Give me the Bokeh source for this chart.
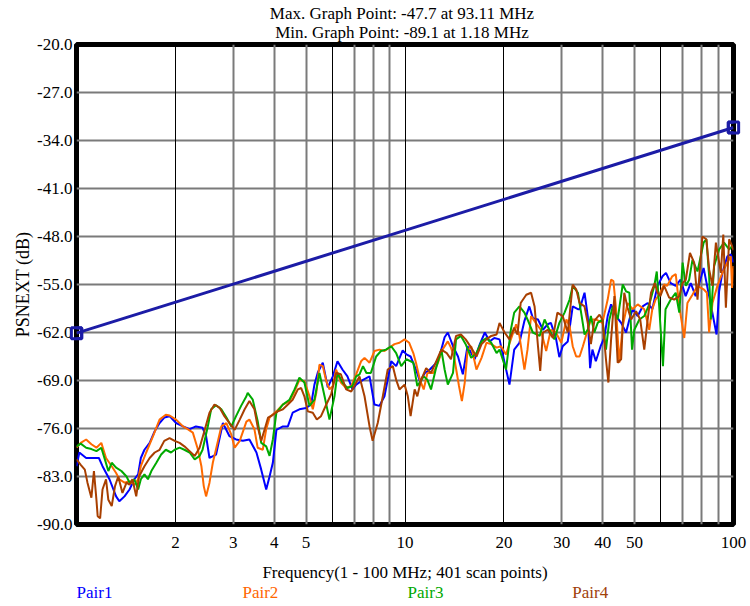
from bokeh.plotting import figure
from bokeh.models import (FixedTicker, PrintfTickFormatter, Grid, Label, Range1d)
from bokeh.layouts import column
from bokeh.core.properties import value
from bokeh.embed import file_html
from bokeh.resources import INLINE

FONT = "Liberation Serif"

# ---------------- data ----------------
TITLE_1 = "Max. Graph Point: -47.7 at 93.11 MHz"
TITLE_2 = "Min. Graph Point: -89.1 at 1.18 MHz"
X_LABEL = "Frequency(1 - 100 MHz; 401 scan points)"
Y_LABEL = "PSNEXT (dB)"
SERIES = ["Pair1", "Pair2", "Pair3", "Pair4"]

X_TICKS = [2, 3, 4, 5, 10, 20, 30, 40, 50, 100]
Y_TICKS = [-20, -27, -34, -41, -48, -55, -62, -69, -76, -83, -90]

LIMIT_F = [1, 10, 100]
LIMIT_DB = [-62.1, -47.1, -32.1]

P1_F = [1.00, 1.02, 1.07, 1.17, 1.20, 1.26, 1.32, 1.35, 1.40, 1.45,
        1.50, 1.54, 1.57, 1.61, 1.67, 1.73, 1.79, 1.85, 1.92, 2.01,
        2.11, 2.21, 2.31, 2.42, 2.48, 2.54, 2.66, 2.79, 2.92, 3.06,
        3.21, 3.36, 3.53, 3.65, 3.78, 3.87, 3.96, 4.06, 4.25, 4.40,
        4.55, 4.77, 5.00, 5.18, 5.30, 5.43, 5.62, 5.82, 6.03, 6.23,
        6.45, 6.68, 6.92, 7.10, 7.45, 7.80, 8.07, 8.36, 8.66, 9.08,
        9.40, 9.84, 10.1, 10.4, 10.8, 11.1, 11.5, 11.9, 12.3, 12.7,
        13.2, 13.5, 14.0, 14.5, 15.0, 15.5, 16.3, 16.9, 17.5, 18.1,
        18.7, 19.4, 20.1, 20.8, 21.5, 22.3, 23.1, 23.9, 24.5, 25.4,
        26.3, 27.2, 27.8, 28.8, 29.5, 30.2, 31.3, 32.4, 33.6, 34.0,
        35.2, 36.0, 36.6, 37.2, 38.1, 39.4, 40.4, 41.4, 42.4, 43.9,
        45.5, 47.1, 48.2, 49.3, 51.1, 52.9, 54.8, 56.6, 58.7, 60.8,
        62.3, 64.4, 66.7, 69.0, 71.5, 74.1, 76.7, 81.1, 84.3, 88.8,
        90.4, 92.5, 95.8, 98.1, 100]
P1_DB = [-81.5, -79.5, -80.3, -80.3, -81.5, -83.4, -85.9, -86.6, -85.9, -84.9,
         -83.4, -82.7, -80.3, -79.1, -78.1, -76.4, -75.2, -74.4, -74.2, -75.2,
         -75.7, -76.1, -75.7, -75.9, -77.1, -80.3, -79.8, -75.2, -77.1, -77.6,
         -77.8, -77.6, -79.5, -82.0, -84.9, -83.0, -81.0, -76.2, -75.7, -75.7,
         -73.7, -73.2, -73.0, -72.5, -69.6, -67.8, -66.4, -70.0, -68.4, -66.2,
         -67.4, -68.4, -70.3, -69.6, -68.9, -68.4, -72.5, -72.7, -71.3, -66.2,
         -66.9, -64.6, -65.2, -65.5, -67.4, -69.1, -67.9, -67.4, -66.7, -65.7,
         -62.7, -62.0, -64.0, -65.5, -68.1, -64.0, -65.9, -63.7, -62.0, -63.3,
         -62.8, -63.0, -66.4, -69.6, -64.5, -63.5, -60.3, -58.2, -59.9, -60.1,
         -61.6, -60.8, -60.6, -62.8, -65.6, -64.0, -63.3, -58.2, -58.6, -58.6,
         -56.2, -59.6, -67.2, -64.5, -66.2, -64.0, -62.8, -59.6, -57.9, -59.6,
         -60.6, -62.0, -60.1, -58.6, -59.6, -58.2, -57.7, -58.6, -55.2, -53.8,
         -53.3, -54.8, -55.2, -54.3, -56.7, -54.8, -56.7, -52.6, -56.7, -62.3,
         -56.0, -53.3, -50.9, -50.6, -51.8]

P2_F = [1.00, 1.03, 1.07, 1.11, 1.15, 1.19, 1.23, 1.28, 1.32, 1.35,
        1.40, 1.45, 1.50, 1.54, 1.57, 1.63, 1.71, 1.79, 1.87, 1.92,
        2.01, 2.11, 2.18, 2.26, 2.34, 2.40, 2.44, 2.48, 2.54, 2.60,
        2.66, 2.76, 2.86, 2.96, 3.03, 3.14, 3.29, 3.36, 3.48, 3.56,
        3.69, 3.78, 3.87, 4.06, 4.25, 4.45, 4.61, 4.77, 4.94, 5.12,
        5.24, 5.37, 5.49, 5.62, 5.76, 5.89, 6.03, 6.17, 6.38, 6.62,
        6.86, 7.10, 7.35, 7.53, 7.80, 8.07, 8.36, 8.66, 8.97, 9.29,
        9.62, 9.97, 10.3, 10.6, 10.8, 11.1, 11.4, 11.7, 12.2, 12.6,
        13.0, 13.5, 13.8, 14.1, 14.6, 14.9, 15.2, 15.5, 15.9, 16.5,
        17.1, 17.7, 18.3, 19.0, 19.6, 20.3, 21.0, 21.8, 22.3, 23.1,
        23.6, 24.2, 25.0, 25.9, 26.9, 27.8, 28.8, 29.9, 31.0, 31.7,
        32.4, 33.2, 34.0, 34.8, 36.0, 36.8, 38.1, 39.9, 41.4, 42.4,
        43.1, 43.9, 44.9, 46.0, 47.6, 49.3, 51.1, 53.5, 55.4, 56.6,
        57.9, 59.4, 61.5, 62.8, 65.1, 66.7, 68.4, 70.8, 72.4, 75.0,
        77.7, 81.1, 83.0, 84.3, 86.3, 89.3, 92.5, 95.8, 98.1, 99.0,
        100]
P2_DB = [-78.8, -78.1, -77.6, -78.3, -78.8, -78.1, -80.3, -81.5, -82.5, -83.4,
         -83.9, -83.7, -84.2, -83.4, -81.5, -79.5, -77.1, -74.7, -74.0, -74.1,
         -74.7, -75.7, -76.1, -76.6, -79.0, -81.5, -84.4, -85.9, -83.9, -81.0,
         -79.0, -75.7, -75.2, -76.9, -78.8, -77.8, -75.0, -74.7, -76.1, -78.8,
         -79.1, -76.1, -74.4, -73.5, -72.5, -72.0, -70.6, -68.9, -69.1, -71.3,
         -73.2, -70.8, -66.7, -66.9, -69.1, -70.3, -69.8, -67.4, -69.3, -70.1,
         -69.8, -68.1, -66.2, -65.7, -66.4, -64.7, -64.5, -64.7, -64.2, -63.7,
         -63.5, -63.0, -63.5, -65.0, -66.4, -68.9, -70.3, -67.9, -67.9, -66.4,
         -64.5, -63.3, -64.2, -65.5, -69.8, -72.0, -69.3, -64.7, -64.0, -67.4,
         -65.7, -63.5, -63.7, -64.2, -64.0, -65.2, -63.0, -60.8, -62.5, -67.4,
         -64.5, -59.6, -60.6, -61.6, -64.7, -61.6, -62.0, -63.5, -60.1, -61.1,
         -64.0, -65.5, -65.5, -64.0, -61.6, -60.1, -60.1, -60.6, -57.2, -54.3,
         -54.5, -58.6, -66.4, -61.1, -57.7, -58.6, -57.9, -58.6, -61.6, -58.6,
         -57.2, -56.5, -55.0, -55.2, -53.8, -53.5, -58.2, -62.8, -57.7, -56.5,
         -55.2, -55.7, -56.2, -62.0, -57.7, -55.2, -53.3, -51.8, -50.9, -55.5,
         -52.3]

P3_F = [1.00, 1.03, 1.07, 1.11, 1.15, 1.19, 1.22, 1.25, 1.28, 1.32,
        1.37, 1.42, 1.45, 1.50, 1.54, 1.57, 1.61, 1.65, 1.69, 1.75,
        1.81, 1.87, 1.94, 1.99, 2.06, 2.13, 2.21, 2.29, 2.37, 2.42,
        2.51, 2.57, 2.66, 2.76, 2.86, 2.96, 3.06, 3.17, 3.29, 3.32,
        3.44, 3.56, 3.65, 3.78, 3.87, 3.96, 4.06, 4.25, 4.45, 4.61,
        4.77, 4.94, 5.12, 5.30, 5.49, 5.69, 5.89, 6.10, 6.23, 6.45,
        6.68, 6.92, 7.10, 7.27, 7.45, 7.63, 7.87, 8.17, 8.45, 8.75,
        9.08, 9.40, 9.74, 10.1, 10.6, 10.9, 11.4, 11.7, 12.0, 12.4,
        12.9, 13.2, 13.5, 14.0, 14.3, 14.8, 15.3, 15.9, 16.5, 17.1,
        17.7, 18.3, 19.0, 19.4, 20.3, 21.0, 21.5, 22.3, 23.1, 23.6,
        24.5, 25.7, 26.6, 27.5, 28.5, 29.5, 30.6, 31.7, 32.4, 33.6,
        34.5, 35.2, 36.0, 36.8, 37.7, 38.6, 39.9, 40.9, 41.9, 42.9,
        44.4, 46.0, 47.1, 48.2, 49.1, 49.9, 51.7, 53.5, 55.4, 57.4,
        58.4, 59.4, 61.0, 62.1, 64.4, 66.7, 68.4, 70.0, 71.6, 73.3,
        75.0, 77.7, 81.1, 82.7, 84.3, 85.3, 87.3, 90.4, 93.6, 97.0,
        99.0]
P3_DB = [-78.6, -78.2, -78.8, -79.0, -79.3, -78.8, -80.5, -82.2, -81.0, -81.7,
         -82.2, -83.0, -83.9, -83.4, -84.9, -83.4, -82.7, -83.4, -82.2, -81.0,
         -79.8, -79.1, -79.5, -79.1, -78.8, -79.1, -79.5, -80.5, -80.0, -79.1,
         -75.7, -73.2, -72.6, -73.2, -74.4, -75.7, -74.2, -72.7, -71.3, -70.8,
         -71.8, -74.9, -78.1, -78.6, -80.0, -77.6, -73.7, -72.5, -71.8, -70.3,
         -68.6, -69.3, -72.7, -71.8, -67.9, -71.3, -74.7, -71.3, -67.9, -69.3,
         -70.1, -69.8, -68.4, -68.1, -66.9, -67.9, -67.9, -65.5, -64.7, -64.5,
         -64.0, -65.0, -66.9, -65.9, -66.4, -69.8, -68.4, -68.9, -70.3, -67.4,
         -64.5, -67.4, -69.6, -67.9, -63.0, -62.5, -63.7, -65.7, -65.0, -63.3,
         -62.8, -63.5, -65.0, -64.5, -67.4, -61.6, -59.1, -58.2, -59.1, -60.1,
         -62.0, -62.5, -60.1, -61.6, -63.0, -60.6, -59.1, -57.2, -55.2, -56.2,
         -59.6, -62.3, -61.6, -59.6, -62.0, -60.6, -60.1, -64.5, -60.1, -58.2,
         -60.1, -55.0, -56.0, -56.2, -64.5, -61.6, -60.1, -59.6, -57.9, -55.2,
         -53.1, -58.2, -66.9, -58.6, -57.2, -56.2, -59.1, -51.8, -55.2, -54.3,
         -51.4, -53.1, -48.9, -48.4, -53.8, -60.1, -52.3, -49.9, -48.9, -49.9,
         -49.4]

P4_F = [1.00, 1.03, 1.06, 1.08, 1.11, 1.13, 1.15, 1.16, 1.18, 1.20,
        1.23, 1.25, 1.28, 1.31, 1.34, 1.38, 1.42, 1.45, 1.48, 1.52,
        1.55, 1.61, 1.67, 1.73, 1.79, 1.85, 1.92, 1.99, 2.06, 2.13,
        2.21, 2.29, 2.37, 2.45, 2.54, 2.63, 2.73, 2.82, 2.92, 3.03,
        3.14, 3.25, 3.36, 3.48, 3.56, 3.65, 3.74, 3.83, 3.96, 4.10,
        4.25, 4.40, 4.55, 4.72, 4.83, 4.94, 5.06, 5.24, 5.39, 5.55,
        5.76, 5.96, 6.17, 6.38, 6.62, 6.86, 7.10, 7.27, 7.53, 7.80,
        7.97, 8.26, 8.56, 8.86, 9.18, 9.40, 9.62, 9.97, 10.2, 10.4,
        10.7, 10.9, 11.2, 11.6, 12.0, 12.4, 12.9, 13.4, 13.8, 14.3,
        14.8, 15.3, 15.9, 16.5, 17.1, 17.7, 18.3, 19.0, 19.4, 20.1,
        20.8, 21.5, 22.0, 22.5, 23.4, 24.2, 24.8, 25.4, 25.8, 26.3,
        27.2, 28.2, 29.1, 30.2, 31.3, 32.4, 33.2, 34.0, 35.2, 36.0,
        36.8, 37.7, 39.1, 39.9, 40.9, 41.6, 42.4, 43.4, 44.4, 45.5,
        46.5, 47.6, 48.8, 50.5, 52.0, 53.5, 54.8, 56.1, 57.6, 58.7,
        59.9, 61.5, 63.7, 66.0, 68.4, 70.0, 71.6, 73.7, 75.9, 77.7,
        80.4, 82.7, 84.3, 86.3, 88.4, 91.5, 93.1, 94.8, 97.0, 99.0,
        100]
P4_DB = [-80.5, -81.3, -82.0, -83.9, -86.1, -82.2, -86.4, -88.8, -89.1, -84.9,
         -83.4, -86.4, -87.3, -84.4, -83.0, -85.4, -83.9, -84.2, -83.4, -85.9,
         -83.0, -81.5, -80.3, -79.5, -79.1, -77.8, -77.4, -77.8, -78.1, -78.6,
         -79.3, -80.0, -78.8, -76.4, -73.7, -72.5, -73.0, -74.2, -75.2, -76.2,
         -74.7, -73.2, -72.0, -73.2, -75.7, -77.8, -76.1, -74.4, -74.0, -73.5,
         -73.2, -72.5, -71.8, -70.3, -70.1, -71.3, -73.5, -73.7, -74.7, -74.2,
         -72.5, -71.0, -67.9, -68.1, -70.3, -70.6, -69.3, -68.4, -71.3, -75.7,
         -77.8, -75.2, -71.3, -67.4, -66.9, -68.9, -70.3, -69.6, -71.3, -74.2,
         -70.3, -71.3, -68.9, -67.2, -67.9, -66.4, -64.5, -65.0, -65.9, -62.5,
         -62.3, -63.0, -64.2, -65.5, -63.7, -63.0, -62.5, -62.3, -60.6, -62.0,
         -63.0, -61.3, -62.3, -57.7, -56.5, -56.2, -58.2, -64.0, -67.6, -62.0,
         -61.6, -62.8, -59.1, -59.6, -62.0, -55.0, -55.7, -57.7, -58.2, -60.6,
         -63.7, -60.3, -59.4, -60.1, -65.9, -69.3, -63.0, -56.7, -66.4, -65.9,
         -56.2, -58.4, -60.1, -58.9, -60.1, -64.5, -60.1, -56.2, -54.8, -56.2,
         -56.7, -55.2, -56.9, -57.2, -56.7, -54.8, -54.3, -50.4, -51.8, -57.2,
         -48.0, -48.4, -52.8, -55.2, -48.9, -53.3, -47.7, -58.4, -48.4, -49.4,
         -50.0]

# ---------------- styling ----------------
COLORS = ["#0000ff", "#ff6a00", "#00aa00", "#a83f00"]
LEGEND_COLORS = ["#0000ff", "#ff6600", "#00a800", "#a0400a"]
LIMIT_COLOR = "#1c1ca6"

W = 748
BL, BR = 76, 15

x_range = Range1d(1, 100)
p = figure(x_axis_type="log", width=W, height=584,
           min_border_left=BL, min_border_right=BR, min_border_top=44,
           min_border_bottom=60, output_backend="svg", toolbar_location=None,
           x_range=x_range, y_range=Range1d(-90, -20))
p.title = None
p.background_fill_color = "white"
p.border_fill_color = "white"
p.outline_line_color = "black"
p.outline_line_width = 5

for ax in (p.xaxis[0], p.yaxis[0]):
    ax.axis_line_color = None
    ax.major_tick_line_color = None
    ax.minor_tick_line_color = None
    ax.major_tick_out = 0
    ax.major_tick_in = 0
    ax.minor_tick_out = 0
    ax.minor_tick_in = 0
    ax.major_label_text_font = FONT
    ax.major_label_text_font_size = "17px"
    ax.major_label_text_color = "black"
    ax.axis_label_text_font = FONT
    ax.axis_label_text_font_size = "17px"
    ax.axis_label_text_font_style = "normal"
    ax.axis_label_text_color = "black"

p.xaxis.ticker = FixedTicker(ticks=X_TICKS)
p.xaxis.formatter = PrintfTickFormatter(format="%d")
p.xaxis.major_label_standoff = 12
p.xaxis.axis_label = X_LABEL
p.xaxis.axis_label_standoff = 12

p.yaxis.ticker = FixedTicker(ticks=Y_TICKS)
p.yaxis.formatter = PrintfTickFormatter(format="%.1f")
p.yaxis.major_label_standoff = 4
p.yaxis.axis_label = Y_LABEL
p.yaxis.axis_label_standoff = 1
p.yaxis.axis_label_text_font_size = "18px"
p.yaxis.axis_label_text_line_height = 1.0

# grids: horizontal gray, vertical mixed (thin black / soft gray)
p.ygrid.ticker = FixedTicker(ticks=Y_TICKS[1:-1])
p.ygrid.grid_line_color = "#7a7a7a"
p.ygrid.grid_line_width = 2
p.xgrid.ticker = FixedTicker(ticks=[3, 4, 5, 7, 8, 9, 30, 40, 50, 70, 80, 90])
p.xgrid.grid_line_color = "#7a7a7a"
p.xgrid.grid_line_width = 2
p.add_layout(Grid(dimension=0, ticker=FixedTicker(ticks=[2, 6, 10, 20, 60]),
                  grid_line_color="black", grid_line_width=1))

# traces
for f, db, c in zip([P1_F, P2_F, P3_F, P4_F], [P1_DB, P2_DB, P3_DB, P4_DB], COLORS):
    p.line(f, db, line_color=c, line_width=2)

p.line(LIMIT_F, LIMIT_DB, line_color=LIMIT_COLOR, line_width=3)
p.scatter([LIMIT_F[0], LIMIT_F[-1]], [LIMIT_DB[0], LIMIT_DB[-1]], marker="square",
          size=10.5, fill_color=None, line_color=LIMIT_COLOR, line_width=3)

# end-point boxes of the limit line, drawn unclipped over the frame border
for fx, dbv, side in ((LIMIT_F[0], LIMIT_DB[0], "left"), (LIMIT_F[-1], LIMIT_DB[-1], "right")):
    p.add_layout(Label(x=fx, y=dbv, text=" ", text_font_size="1px",
                       text_align="center", text_baseline="middle", padding=5,
                       border_line_color=LIMIT_COLOR, border_line_width=3,
                       background_fill_color=None), side)

# two title lines above the frame (in the side panel so they are not clipped)
for txt, yy in ((TITLE_1, -15.45), (TITLE_2, -18.3)):
    p.add_layout(Label(x=9.79, y=yy, text=txt, text_align="center",
                       text_baseline="middle", text_font=FONT,
                       text_font_size="17px", text_color="black"), "above")

# strip with the coloured series names under the axis title
q = figure(x_axis_type="log", width=W, height=20, x_range=x_range,
           y_range=Range1d(0, 1), min_border_left=BL, min_border_right=BR,
           min_border_top=0, min_border_bottom=0, output_backend="svg",
           toolbar_location=None)
q.title = None
q.axis.visible = False
q.grid.visible = False
q.outline_line_color = None
q.background_fill_color = "white"
q.border_fill_color = "white"
q.text(x=[1.0, 3.2, 10.18, 32.3], y=[0.6] * 4, text=SERIES,
       text_color=LEGEND_COLORS, text_font=value(FONT), text_font_size="17px",
       text_align="left", text_baseline="middle")

layout = column(p, q, spacing=0)
open("out.html", "w").write(file_html(layout, INLINE))
